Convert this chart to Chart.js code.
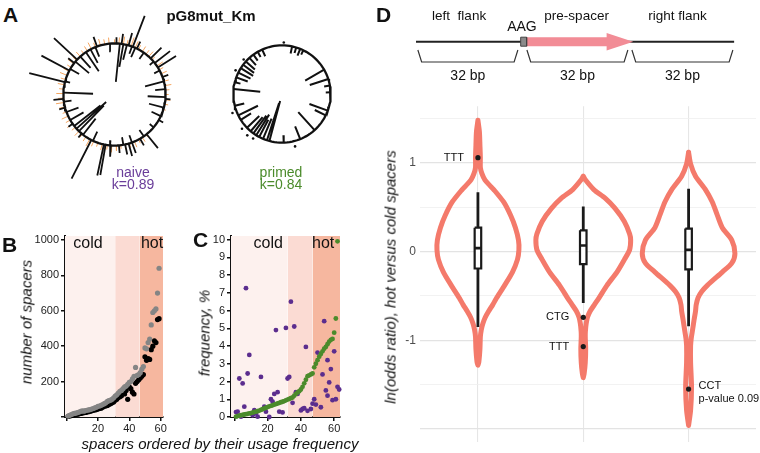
<!DOCTYPE html>
<html>
<head>
<meta charset="utf-8">
<script src="https://cdn.jsdelivr.net/npm/chart.js@4.4.1/dist/chart.umd.min.js"></script>
<style>
  html, body { margin: 0; padding: 0; background: #fff; }
  body { width: 760px; height: 453px; position: relative; overflow: hidden;
         font-family: "Liberation Sans", Arial, sans-serif; color: #111; }
  canvas { position: absolute; }
  .txt { position: absolute; white-space: nowrap; line-height: 1; }
  .c { transform: translateX(-50%); }
  .rot { transform: translate(-50%, -50%) rotate(-90deg); font-style: italic; font-size: 15px; }
  .big { font-weight: bold; font-size: 21px; }
</style>
</head>
<body>
<canvas id="circNaive" width="189" height="189" style="left:20px;top:0"></canvas>
<canvas id="circPrimed" width="188" height="188" style="left:188px;top:0"></canvas>
<canvas id="chartB" width="180" height="215" style="left:0;top:225px"></canvas>
<canvas id="chartC" width="175" height="215" style="left:180px;top:225px"></canvas>
<canvas id="scheme" width="380" height="95" style="left:380px;top:0"></canvas>
<canvas id="violin" width="380" height="358" style="left:380px;top:95px"></canvas>

<div class="txt big" style="left:3px;top:4px">A</div>
<div class="txt c" style="left:211px;top:8px;font-size:15px;font-weight:bold">pG8mut_Km</div>
<div class="txt c" style="left:133px;top:165px;font-size:14px;color:#6a3d9a">naive</div>
<div class="txt c" style="left:133px;top:177px;font-size:14px;color:#6a3d9a">k=0.89</div>
<div class="txt c" style="left:281px;top:165px;font-size:14px;color:#4b8b2b">primed</div>
<div class="txt c" style="left:281px;top:177px;font-size:14px;color:#4b8b2b">k=0.84</div>
<div class="txt big" style="left:2px;top:234px">B</div>
<div class="txt big" style="left:193px;top:229px">C</div>
<div class="txt big" style="left:376px;top:4px">D</div>
<div class="txt rot" style="left:26px;top:322px">number of spacers</div>
<div class="txt rot" style="left:204px;top:333px">frequency, %</div>
<div class="txt rot" style="left:390px;top:277px">ln(odds ratio), hot versus cold spacers</div>
<div class="txt c" style="left:220px;top:436px;font-size:15px;font-style:italic">spacers ordered by their usage frequency</div>

<script>
Chart.defaults.font.family = '"Liberation Sans", Arial, sans-serif';
Chart.defaults.color = '#222';

// ---- panel A: radial marks (angle clockwise from top, radius in circle units)
const naiveAngle = [6,10,14,20,24,35,50,62,75,84,93,105,115,130,145,160,170,185,205,218,224,228,232,240,250,262,272,285,300,310,318,326,332,338,355,
                    2,8,16,21,26,45,52,58,70,95,120,141,150,160,164,168,175,184,190,192,207,220,235,255,265,284,298,308,313,340];
const naiveFrom  = [.25,.55,.7,.85,.8,.85,.9,.88,.62,.8,.65,.7,.8,.9,.85,.85,.85,.9,.8,.6,.3,.22,.35,.7,.75,.85,.42,.9,.8,.65,.7,.55,.7,.8,.85,
                    1,1,1,1,1,1,1,1,1,1,1,1,1,1,1,1,1,1,1,1,1,1,1,1,1,1,1,1,1,1];
const naiveTo    = [1,1,1,1,1,1,1,1,1,1,1,1,1,1,1,1,1,1,1,1,1,1,1,1,1,1,1,1,1,1,1,1,1,1,1,
                    1.12,1.2,1.25,1.65,1.15,1.3,1.38,1.42,1.12,1.1,1.1,1.35,1.15,1.22,1.25,1.2,1.15,1.22,1.6,1.62,1.85,1.1,1.1,1.12,1.2,1.72,1.62,1.15,1.62,1.2];
const orangeAngle = [0,5,10,14,19,24,28,33,38,42,47,52,56,61,66,70,75,80,85,90,96,101,107,142,147,152,157,163,168,173,178,183,188,194,199,204,209,214,219,224,
                     230,235,240,245,250,256,261,266,271,276,281,287,292,297,302,307,312,318,323,328,333,338,344,349,354];
const orangeLen   = [1.08,1.12,1.15,1.1,1.18,1.14,1.09,1.12,1.1,1.13,1.08,1.11,1.14,1.09,1.12,1.07,1.1,1.13,1.08,1.06,1.1,1.07,1.05,1.06,1.1,1.08,1.12,1.09,1.11,1.07,
                     1.1,1.13,1.09,1.12,1.08,1.11,1.15,1.1,1.08,1.12,1.09,1.13,1.1,1.14,1.08,1.12,1.16,1.11,1.14,1.09,1.13,1.1,1.15,1.12,1.09,1.14,1.1,1.12,1.08,1.11,
                     1.14,1.09,1.13,1.1,1.12];
const primedAngle = [12,17,22,26,60,72,80,88,110,116,138,158,178,195,198,203,208,212,216,220,226,238,244,256,276,284,290,296,302,307,312,318,324,330,336];
const primedFrom  = [.85,.88,.85,.9,.55,.6,.88,.9,.6,.75,.5,.72,.85,.15,.2,.55,.6,.5,.55,.62,.65,.75,.55,.8,.45,.88,.75,.72,.7,.72,.75,.8,.85,.88,.85];
const primedDotAngle = [2,166,213,220,229,249,297,312];
const primedDotR     = [1.06,1.11,1.09,1.11,1.09,1.09,1.07,1.06];

// ---- panel B: spacer counts by rank
const bGrey  = [5,10,14,18,20,22,25,28,32,35,33,36,38,40,42,45,48,52,55,60,62,66,70,75,80,88,92,95,100,108,
                118,125,135,145,150,160,170,175,185,195,200,215,230,280,235,240,250,270,285,390,385,420,440,520,590,600,610,700,840];
const bBlack = [3,6,8,10,12,14,16,18,20,22,24,26,28,30,32,35,38,40,42,45,48,50,55,60,62,65,70,75,80,85,
                95,100,110,115,120,140,130,150,100,170,160,140,130,190,200,210,220,230,240,340,320,330,325,380,400,430,420,550,555];
const bXTicks = [0,20,40,60];
const bYTicks = [0,200,400,600,800,1000];
const bBandStart = [-1,31,46.5];
const bBandEnd   = [31,46.5,61.5];

// ---- panel C: frequency, %
const cGreen = [0.02,0.05,0.08,0.1,0.12,0.14,0.16,0.18,0.2,0.22,0.25,0.28,0.3,0.33,0.36,0.4,0.44,0.48,0.52,0.56,0.6,0.63,0.66,0.7,0.73,0.76,0.8,0.83,0.86,0.9,
                0.94,0.98,1.02,1.06,1.1,1.2,1.3,1.38,1.45,1.55,1.7,1.9,2.1,2.3,2.35,2.4,2.45,2.8,3.0,3.2,3.4,3.55,3.7,3.85,3.95,4.1,4.25,4.35,4.4,4.75,5.55,9.9];
const cPurpleX = [1,2,3,4,5,6,7,8,9,11,12,13,14,16,18,19,21,22,23,24,25,26,27,29,31,32,33,34,35,36,37,38,40,41,42,43,44,46,47,48,49,50,52,53,54,55,56,56,57,58,59,60,61,62,63];
const cPurpleY = [0.28,0.3,2.17,0.02,1.89,0.58,7.26,2.45,3.5,0.1,0.38,0.2,0.02,2.26,0.58,0.3,0,1.0,0.86,1.3,4.9,1.4,0.3,0.26,5.02,2.17,2.26,6.5,0.8,5.1,1.4,1.3,
                  0.37,0.45,0.5,3.95,0.35,0.45,0.75,1.0,0.7,3.63,0.55,2.4,5.4,1.5,1.2,3.2,1.95,2.7,0.95,3.7,1.0,1.7,1.55];
const cXTicks = [0,20,40,60];
const cYTicks = [0,1,2,3,4,5,6,7,8,9,10];
const cBandStart = [-2,32,47];
const cBandEnd   = [32,47,63.5];

// ---- panel D: scheme (bp) and violins
const flankStart = [0.6,35.5,69.1];
const flankEnd   = [32.6,67.8,101.4];
const flankLabel = ['32 bp','32 bp','32 bp'];
const pamRange = [33.5,35.4];
const spacerRange = [35.4,69.5];

const violinLevels1 = [1.48,1.35,1.2,1.06,0.95,0.88,0.81,0.75,0.70,0.56,0.41,0.27,0.13,0.02,-0.09,-0.23,-0.38,-0.52,-0.6,-0.67,-0.74,-0.81,-0.88,-0.96,-1.1,-1.24,-1.28];
const violinHalf1   = [0,0.014,0.019,0.023,0.023,0.038,0.066,0.11,0.15,0.244,0.31,0.356,0.385,0.389,0.375,0.328,0.253,0.178,0.14,0.103,0.07,0.047,0.032,0.023,0.019,0.009,0];
const violinLevels2 = [0.85,0.81,0.70,0.60,0.49,0.34,0.20,0.13,0.02,-0.09,-0.23,-0.38,-0.52,-0.6,-0.67,-0.74,-0.81,-0.9,-0.96,-1.10,-1.25,-1.38,-1.42];
const violinHalf2   = [0,0.02,0.10,0.21,0.30,0.39,0.44,0.45,0.44,0.39,0.32,0.225,0.15,0.105,0.066,0.04,0.028,0.02,0.019,0.023,0.019,0.008,0];
const violinLevels3 = [1.12,0.99,0.85,0.70,0.56,0.42,0.27,0.13,-0.02,-0.13,-0.23,-0.38,-0.45,-0.52,-0.6,-0.67,-0.77,-0.88,-0.97,-1.06,-1.25,-1.53,-1.79,-1.96];
const violinHalf3   = [0,0.019,0.066,0.16,0.225,0.27,0.32,0.41,0.44,0.41,0.32,0.178,0.125,0.09,0.072,0.066,0.052,0.038,0.026,0.019,0.019,0.028,0.019,0];
const boxWhiskerLo = [-0.85,-0.58,-0.84];
const boxWhiskerHi = [0.67,0.51,0.71];
const boxQ1 = [-0.19,-0.14,-0.2];
const boxQ3 = [0.27,0.24,0.26];
const boxMedian = [0.04,0.07,0.02];
const outlierGroup = [1,2,2,3];
const outlierValue = [1.06,-0.74,-1.07,-1.55];
const outlierLabel = ['TTT','CTG','TTT','CCT'];
const outlierNote  = ['','','','p-value 0.09'];
const dYTicks = [-2,-1.5,-1,-0.5,0,0.5,1,1.5];

// ---- helpers
const baseOpts = () => ({
    responsive: false, animation: false, devicePixelRatio: 1, events: [],
    plugins: { legend: { display: false }, tooltip: { enabled: false } }
});

// text drawn at data coordinates
const textMarks = {
    id: 'textMarks',
    afterDatasetsDraw(chart, args, opts) {
        const ctx = chart.ctx;
        ctx.save();
        (opts.items || []).forEach(t => {
            const px = chart.scales.x.getPixelForValue(t.x) + (t.dx || 0);
            const py = chart.scales.y.getPixelForValue(t.y) + (t.dy || 0);
            ctx.font = t.font || '11px "Liberation Sans", Arial';
            ctx.fillStyle = t.color || '#111';
            ctx.textAlign = t.align || 'center';
            ctx.textBaseline = t.baseline || 'middle';
            ctx.fillText(t.text, px, py);
        });
        ctx.restore();
    }
};

function radial(angles, from, to) {
    const pts = [];
    angles.forEach((a, i) => {
        const t = a * Math.PI / 180;
        pts.push({ x: from[i] * Math.sin(t), y: from[i] * Math.cos(t) });
        pts.push({ x: to[i] * Math.sin(t), y: to[i] * Math.cos(t) });
        pts.push({ x: to[i] * Math.sin(t), y: null });
    });
    return pts;
}
function ring() {
    const pts = [];
    for (let d = 0; d <= 360; d += 3) {
        const t = d * Math.PI / 180;
        pts.push({ x: Math.sin(t), y: Math.cos(t) });
    }
    return pts;
}
const lineDs = (data, color, width, extra) => Object.assign({
    data, borderColor: color, borderWidth: width, pointRadius: 0, fill: false, tension: 0, clip: false
}, extra || {});

function circleChart(id, datasets) {
    const o = baseOpts();
    o.scales = {
        x: { type: 'linear', min: -1.85, max: 1.85, display: false },
        y: { type: 'linear', min: -1.85, max: 1.85, display: false }
    };
    o.layout = { padding: 0 };
    return new Chart(document.getElementById(id), { type: 'line', data: { datasets }, options: o });
}

// 1. circles
circleChart('circNaive', [
    lineDs(ring(), '#111', 2.3, { order: 0 }),
    lineDs(radial(naiveAngle, naiveFrom, naiveTo), '#111', 1.8, { order: 1 }),
    lineDs(radial(orangeAngle, orangeAngle.map(() => 1), orangeLen), '#f5a661', 1, { order: 2 })
]);
circleChart('circPrimed', [
    lineDs(ring(), '#111', 2.3, { order: 0 }),
    lineDs(radial(primedAngle, primedFrom, primedAngle.map(() => 1)), '#111', 2, { order: 1 }),
    { data: primedDotAngle.map((a, i) => ({ x: primedDotR[i] * Math.sin(a * Math.PI / 180), y: primedDotR[i] * Math.cos(a * Math.PI / 180) })),
      showLine: false, pointRadius: 1.3, pointBackgroundColor: '#111', pointBorderWidth: 0, clip: false, order: 1 }
]);

// 2. scatter panels B and C
const bandColors = ['#fdf1ee', '#fbdbd3', '#f6b79f'];
function rankPoints(vals) { return vals.map((v, i) => ({ x: i + 1, y: v })); }

function scatterPanel(id, cfg) {
    const o = baseOpts();
    o.layout = { padding: cfg.padding };
    const axisCommon = {
        type: 'linear',
        border: { display: true, color: '#111', width: 2 },
        grid: { display: true, drawOnChartArea: false, drawTicks: true, tickLength: 4, color: '#111', lineWidth: 1.5 },
    };
    o.scales = {
        x: Object.assign({}, axisCommon, {
            min: cfg.xMin, max: cfg.xMax,
            afterBuildTicks: s => { s.ticks = cfg.xTicks.map(v => ({ value: v })); },
            afterFit: s => { s.height = 23; },
            ticks: { padding: 1, font: { size: 11 }, color: '#222', maxRotation: 0, callback: v => v === 0 ? '' : String(v) }
        }),
        y: Object.assign({}, axisCommon, {
            min: cfg.yMin, max: cfg.yMax,
            afterBuildTicks: s => { s.ticks = cfg.yTicks.map(v => ({ value: v })); },
            afterFit: s => { s.width = cfg.yWidth; },
            ticks: { padding: 2, font: { size: 11 }, color: '#222', callback: v => (v === 0 && !cfg.zeroLabel) ? '' : String(v) }
        })
    };
    o.plugins.textMarks = { items: cfg.labels };
    const bands = cfg.bandStart.map((s, i) => lineDs([{ x: s, y: cfg.yMax }, { x: cfg.bandEnd[i], y: cfg.yMax }], 'rgba(0,0,0,0)', 0,
        { fill: 'start', backgroundColor: bandColors[i], clip: 0, order: 10 }));
    return new Chart(document.getElementById(id), {
        type: 'line', data: { datasets: cfg.series.concat(bands) }, options: o, plugins: [textMarks]
    });
}
const dot = (data, color, r, order) => ({ data, showLine: false, pointRadius: r, pointBackgroundColor: color, pointBorderWidth: 0, clip: false, order });

scatterPanel('chartB', {
    padding: { top: 11, right: 17, left: 0, bottom: 0 }, yWidth: 65,
    xMin: -1, xMax: 61.5, yMin: 0, yMax: 1022, xTicks: bXTicks, yTicks: bYTicks, zeroLabel: false,
    bandStart: bBandStart, bandEnd: bBandEnd,
    series: [dot(rankPoints(bGrey), '#858585', 2.6, 0), dot(rankPoints(bBlack), '#000', 2.6, 1)],
    labels: [
        { x: 13.7, y: 955, text: 'cold', font: '16px "Liberation Sans", Arial', baseline: 'alphabetic' },
        { x: 54.5, y: 955, text: 'hot', font: '16px "Liberation Sans", Arial', baseline: 'alphabetic' }
    ]
});
scatterPanel('chartC', {
    padding: { top: 11, right: 15, left: 0, bottom: 0 }, yWidth: 51,
    xMin: -2, xMax: 63.5, yMin: 0, yMax: 10.2, xTicks: cXTicks, yTicks: cYTicks, zeroLabel: true,
    bandStart: cBandStart, bandEnd: cBandEnd,
    series: [dot(rankPoints(cGreen), '#4b8b2b', 2.4, 0), dot(cPurpleX.map((x, i) => ({ x, y: cPurpleY[i] })), '#5b2d8e', 2.4, 1)],
    labels: [
        { x: 20.4, y: 9.53, text: 'cold', font: '16px "Liberation Sans", Arial', baseline: 'alphabetic' },
        { x: 53.4, y: 9.53, text: 'hot', font: '16px "Liberation Sans", Arial', baseline: 'alphabetic' }
    ]
});

// 3. scheme
(function () {
    const o = baseOpts();
    o.layout = { padding: 0 };
    o.scales = {
        x: { type: 'linear', min: -11.52, max: 110.08, display: false },
        y: { type: 'linear', min: -53.3, max: 41.7, display: false }
    };
    const brackets = [];
    flankStart.forEach((s, i) => {
        const e = flankEnd[i];
        brackets.push({ x: s, y: -8.3 }, { x: s + 1.2, y: -20.3 }, { x: e - 1.2, y: -20.3 }, { x: e, y: -8.3 }, { x: e, y: null });
    });
    const [p0, p1] = pamRange;
    const [a0, a1] = spacerRange;
    const headStart = a1 - 8.5;
    const arrow = [{ x: a0, y: 4.5 }, { x: headStart, y: 4.5 }, { x: headStart, y: 8.8 }, { x: a1, y: 0 },
                   { x: headStart, y: -8.8 }, { x: headStart, y: -4.5 }, { x: a0, y: -4.5 }, { x: a0, y: 4.5 }];
    const pam = [{ x: p0, y: 4.5 }, { x: p1, y: 4.5 }, { x: p1, y: -4.5 }, { x: p0, y: -4.5 }, { x: p0, y: 4.5 }];
    const f13 = '13.5px "Liberation Sans", Arial', f14 = '14px "Liberation Sans", Arial';
    o.plugins.textMarks = { items: [
        { x: 13.8, y: 21.7, text: 'left  flank', font: f13, baseline: 'alphabetic' },
        { x: 33.9, y: 10.7, text: 'AAG', font: f14, baseline: 'alphabetic' },
        { x: 51.4, y: 21.7, text: 'pre-spacer', font: f13, baseline: 'alphabetic' },
        { x: 83.7, y: 21.7, text: 'right flank', font: f13, baseline: 'alphabetic' }
    ].concat(flankLabel.map((t, i) => ({ x: (flankStart[i] + flankEnd[i]) / 2, y: -38.3, text: t, font: f14, baseline: 'alphabetic' }))) };
    new Chart(document.getElementById('scheme'), {
        type: 'line',
        data: { datasets: [
            lineDs([{ x: 0, y: 0 }, { x: 101.8, y: 0 }], '#222', 2, { order: 3 }),
            lineDs(brackets, '#333', 1.2, { order: 3 }),
            lineDs(arrow, 'rgba(0,0,0,0)', 0, { fill: 'shape', backgroundColor: '#f28c96', order: 2 }),
            lineDs(pam, '#444', 1, { fill: 'shape', backgroundColor: '#8a8a8a', order: 1 })
        ] },
        options: o, plugins: [textMarks]
    });
})();

// 4. violins
(function () {
    const o = baseOpts();
    o.layout = { padding: { top: 5, right: 0, left: 0, bottom: 0 } };
    o.scales = {
        x: { type: 'linear', min: 0.45, max: 3.64,
             afterBuildTicks: s => { s.ticks = [1, 2, 3].map(v => ({ value: v })); },
             afterFit: s => { s.height = 3; },
             border: { display: false },
             grid: { color: '#e6e6e6', lineWidth: 1.1, drawTicks: false },
             ticks: { display: false } },
        y: { type: 'linear', min: -2.144, max: 1.64,
             afterBuildTicks: s => { s.ticks = dYTicks.map(v => ({ value: v })); },
             afterFit: s => { s.width = 40; },
             border: { display: false },
             grid: { drawTicks: false,
                     color: c => Number.isInteger(c.tick.value) ? '#e3e3e3' : '#efefef',
                     lineWidth: c => Number.isInteger(c.tick.value) ? 1.2 : 0.8 },
             ticks: { padding: 4, font: { size: 12 }, color: '#4d4d4d',
                      callback: v => (Number.isInteger(v) && v !== -2) ? String(v) : '' } }
    };
    const levels = [violinLevels1, violinLevels2, violinLevels3];
    const halves = [violinHalf1, violinHalf2, violinHalf3];
    const ds = [];
    levels.forEach((lv, k) => {
        const c = k + 1;
        const right = lv.map((y, i) => ({ x: c + halves[k][i], y }));
        const left = lv.map((y, i) => ({ x: c - halves[k][i], y })).reverse();
        ds.push(lineDs(right.concat(left), '#f47a6b', 5, { tension: 0.25, borderJoinStyle: 'round', borderCapStyle: 'round', order: 5 }));
    });
    const bw = 0.031;
    const whisk = [], meds = [];
    boxQ1.forEach((q1, k) => {
        const c = k + 1;
        whisk.push({ x: c, y: boxWhiskerLo[k] }, { x: c, y: boxWhiskerHi[k] }, { x: c, y: null });
        ds.push(lineDs([{ x: c - bw, y: boxQ3[k] }, { x: c + bw, y: boxQ3[k] }, { x: c + bw, y: q1 }, { x: c - bw, y: q1 }, { x: c - bw, y: boxQ3[k] }],
            '#1a1a1a', 2.2, { fill: 'shape', backgroundColor: '#fff', order: 2 }));
        meds.push({ x: c - bw, y: boxMedian[k] }, { x: c + bw, y: boxMedian[k] }, { x: c, y: null });
    });
    ds.push(lineDs(whisk, '#1a1a1a', 2.8, { order: 3 }));
    ds.push(lineDs(meds, '#1a1a1a', 2.6, { order: 1 }));
    ds.push({ data: outlierGroup.map((g, i) => ({ x: g, y: outlierValue[i] })), showLine: false, pointRadius: 2.6,
              pointBackgroundColor: '#1a1a1a', pointBorderWidth: 0, clip: false, order: 0 });
    const items = [];
    outlierGroup.forEach((g, i) => {
        if (outlierNote[i]) {
            items.push({ x: g, y: outlierValue[i], text: outlierLabel[i], align: 'left', dx: 10, dy: -3 });
            items.push({ x: g, y: outlierValue[i], text: outlierNote[i], align: 'left', dx: 10, dy: 10 });
        } else {
            items.push({ x: g, y: outlierValue[i], text: outlierLabel[i], align: 'right', dx: -14 });
        }
    });
    o.plugins.textMarks = { items };
    new Chart(document.getElementById('violin'), { type: 'line', data: { datasets: ds }, options: o, plugins: [textMarks] });
})();
</script>
</body>
</html>
